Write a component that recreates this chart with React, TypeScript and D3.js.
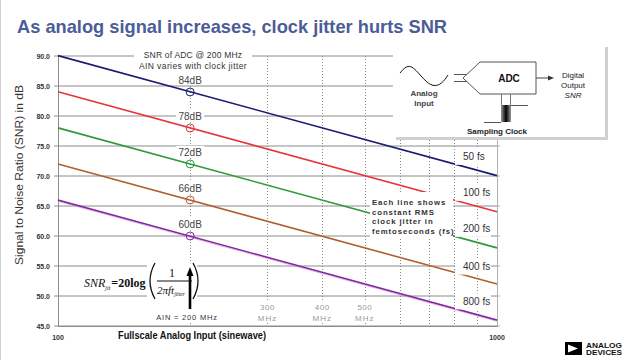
import React from "react";
import * as d3 from "d3";

// ---- data ----
const jitterLabels = ["50 fs", "100 fs", "200 fs", "400 fs", "800 fs"];
const jitterLabelSnr = [73.2, 67.2, 61.2, 54.9, 49.1];
const freqDomain = [100, 1000]; // MHz
const snrAt100 = [90.06, 84.04, 78.02, 72.0, 65.98];
const snrAt1000 = [70.06, 64.04, 58.02, 52.0, 45.98];
const markerFreq = 200;
const markerValues = [84, 78, 72, 66, 60];
const markerLabels = ["84dB", "78dB", "72dB", "66dB", "60dB"];
const lineColors = ["#1b1b72", "#e8343c", "#2e9a3a", "#b0602e", "#7c2c9c"];
const yTicks = [45, 50, 55, 60, 65, 70, 75, 80, 85, 90];
const dottedFreqs = [200, 300, 400, 500, 600, 700, 800, 900];
const mhzLabelFreqs = [300, 400, 500];
const xTickLabels = [100, 1000];

const W = 640;
const H = 360;

export default function App() {
  const x = d3.scaleLog().domain(freqDomain).range([58, 497]);
  const y = d3.scaleLinear().domain([45, 90]).range([326, 56]);
  const lineGen = d3
    .line<[number, number]>()
    .x((d) => x(d[0]))
    .y((d) => y(d[1]));

  const sans = "'Liberation Sans', Arial, sans-serif";
  const serif = "'Liberation Serif', 'Times New Roman', serif";
  const grey = "#8c8c8c";

  return (
    <svg
      width={W}
      height={H}
      viewBox={`0 0 ${W} ${H}`}
      style={{ position: "absolute", left: 0, top: 0, background: "#fff" }}
      fontFamily={sans}
    >
      <rect x={0} y={0} width={W} height={H} fill="#fff" />
      <line x1={0.5} y1={0} x2={0.5} y2={H} stroke="#d0d0d0" />

      {/* Title */}
      <text x={17} y={33} fontSize={19} fontWeight="bold" fill="#4b5d96" textLength={430} lengthAdjust="spacingAndGlyphs">
        As analog signal increases, clock jitter hurts SNR
      </text>

      {/* horizontal grid */}
      {yTicks.map((t) => (
        <line key={"g" + t} x1={58} x2={497} y1={y(t)} y2={y(t)} stroke={grey} strokeWidth={1} />
      ))}
      {/* dotted verticals */}
      {dottedFreqs.map((f) => (
        <line
          key={"d" + f}
          x1={Math.round(x(f)) + 0.5}
          x2={Math.round(x(f)) + 0.5}
          y1={56}
          y2={326}
          stroke="#8a8a8a"
          strokeWidth={1}
          strokeDasharray="1,2"
        />
      ))}
      {/* axes */}
      <line x1={58.5} x2={58.5} y1={56} y2={327} stroke={grey} />
      <line x1={497.5} x2={497.5} y1={56} y2={327} stroke="#b0b0b0" />
      <line x1={58} x2={498} y1={326.5} y2={326.5} stroke={grey} />
      {yTicks.map((t) => (
        <g key={"yt" + t}>
          <line x1={54} x2={58} y1={y(t)} y2={y(t)} stroke={grey} />
          <line x1={497} x2={500} y1={y(t)} y2={y(t)} stroke="#b0b0b0" />
          <text x={50} y={y(t) + 2.5} fontSize={7} fontWeight="bold" textAnchor="end" fill="#333">
            {t.toFixed(1)}
          </text>
        </g>
      ))}
      {xTickLabels.map((f) => (
        <text key={"xt" + f} x={x(f)} y={340} fontSize={7} fontWeight="bold" textAnchor="middle" fill="#333">
          {f}
        </text>
      ))}

      {/* MHz labels */}
      {mhzLabelFreqs.map((f) => (
        <g key={"m" + f}>
          <rect x={x(f) - 9} y={302} width={18} height={21} fill="#fff" />
          <text x={x(f)} y={310} fontSize={8} fill="#9a9a9a" textAnchor="middle" letterSpacing={0.5}>
            {f}
          </text>
          <text x={x(f)} y={321} fontSize={8} fill="#9a9a9a" textAnchor="middle" letterSpacing={1}>
            MHz
          </text>
        </g>
      ))}

      {/* data lines */}
      {snrAt100.map((v, i) => (
        <path
          key={"l" + i}
          d={lineGen([
            [freqDomain[0], v],
            [freqDomain[1], snrAt1000[i]],
          ])!}
          stroke={lineColors[i]}
          strokeWidth={1.6}
          fill="none"
        />
      ))}
      <path
        d={lineGen([
          [freqDomain[0], snrAt100[4]],
          [freqDomain[1], snrAt1000[4]],
        ])!}
        transform="translate(0,1.2)"
        stroke="#e070e0"
        strokeWidth={0.8}
        fill="none"
        opacity={0.7}
      />

      {/* Top annotation */}
      <rect x={134} y={48} width={118} height={24} fill="#fff" />
      <text x={193} y={58} fontSize={8.5} textAnchor="middle" fill="#333" letterSpacing={0.2}>
        SNR of ADC @ 200 MHz
      </text>
      <text x={193} y={69} fontSize={8.5} textAnchor="middle" fill="#333" letterSpacing={0.4}>
        AIN varies with clock jitter
      </text>

      {/* Each line shows */}
      <rect x={370} y={192} width={83} height={47} fill="#fff" />
      {["Each line shows", "constant RMS", "clock jitter in", "femtoseconds (fs)"].map((s, i) => (
        <text key={"e" + i} x={372} y={205 + i * 9.7} fontSize={7.8} fontWeight="bold" fill="#333" letterSpacing={0.9}>
          {s}
        </text>
      ))}

      {/* fs labels */}
      {jitterLabels.map((s, i) => (
        <g key={"fs" + i}>
          <rect x={455} y={y(jitterLabelSnr[i]) - 8} width={36} height={16} fill="#fff" />
          <text x={463} y={y(jitterLabelSnr[i]) + 3.5} fontSize={10} fill="#333">
            {s}
          </text>
        </g>
      ))}

      {/* dB labels + markers */}
      {markerValues.map((v, i) => (
        <g key={"mk" + i}>
          <rect x={x(markerFreq) - 14} y={y(v) - 18} width={28} height={11} fill="#fff" />
          <text x={x(markerFreq)} y={y(v) - 8} fontSize={10} textAnchor="middle" fill="#444">
            {markerLabels[i]}
          </text>
          <circle cx={x(markerFreq)} cy={y(v)} r={4} fill="none" stroke={lineColors[i]} strokeWidth={1} />
        </g>
      ))}

      {/* Formula */}
      <rect x={147} y={261} width={50} height={40} fill="#fff" />
      <text x={84} y={287} fontSize={12} fontStyle="italic" fontFamily={serif} fill="#111">
        SNR
        <tspan fontSize={6} dy={3}>
          jit
        </tspan>
        <tspan dy={-3} dx={1} fontStyle="normal" fontWeight="bold" fontSize={12}>
          =20log
        </tspan>
      </text>
      <path d="M155,263 Q145,281 155,299" stroke="#111" strokeWidth={1.3} fill="none" />
      <path d="M193,263 Q203,281 193,299" stroke="#111" strokeWidth={1.3} fill="none" />
      <text x={172} y={277} fontSize={12} fontFamily={serif} fill="#111" textAnchor="middle">
        1
      </text>
      <line x1={157} x2={192} y1={281} y2={281} stroke="#111" strokeWidth={1} />
      <text x={157} y={294} fontSize={11} fontStyle="italic" fontFamily={serif} fill="#111">
        2πft
        <tspan fontSize={5.5} dy={2}>
          jitter
        </tspan>
      </text>
      <line x1={190} x2={190} y1={309} y2={274} stroke="#000" strokeWidth={2.6} />
      <polygon points="190,267 186.5,276 193.5,276" fill="#000" />
      <rect x={160} y={311} width={54} height={11} fill="#fff" />
      <text x={187} y={320} fontSize={7.5} textAnchor="middle" fill="#333" letterSpacing={0.8}>
        AIN = 200 MHz
      </text>

      {/* Axis titles */}
      <text
        transform="translate(23,175) rotate(-90)"
        fontSize={11.5}
        textAnchor="middle"
        fill="#333"
        textLength={180}
        lengthAdjust="spacingAndGlyphs"
      >
        Signal to Noise Ratio (SNR) in dB
      </text>
      <text x={118} y={339} fontSize={11} fontWeight="bold" fill="#111" textLength={148} lengthAdjust="spacingAndGlyphs">
        Fullscale Analog Input (sinewave)
      </text>

      {/* Diagram box */}
      <rect x={605} y={47} width={3} height={93} fill="#d0d0d0" />
      <rect x={396} y={137} width={212} height={3} fill="#d0d0d0" />
      <rect x={393} y={44} width={212} height={93} fill="#fff" />
      <path
        d={d3
          .line<[number, number]>()
          .curve(d3.curveBasis)(
            [
              [400, 73],
              [406, 66],
              [413, 66],
              [424, 80],
              [433, 87],
              [442, 84],
              [448, 75],
            ]
          )!}
        stroke="#111"
        strokeWidth={1}
        fill="none"
      />
      <text x={424} y={96} fontSize={8} fontWeight="bold" textAnchor="middle" fill="#444">
        Analog
      </text>
      <text x={424} y={106} fontSize={8} fontWeight="bold" textAnchor="middle" fill="#444">
        Input
      </text>
      <line x1={454} x2={467} y1={74.5} y2={74.5} stroke="#555" />
      <line x1={454} x2={467} y1={81.5} y2={81.5} stroke="#555" />
      <path d="M480,62 L536,62 L536,94 L480,94 L463,78 Z" fill="#fff" stroke="#555" strokeWidth={1} />
      <text x={509} y={82} fontSize={10} fontWeight="bold" textAnchor="middle" fill="#111">
        ADC
      </text>
      <line x1={536} x2={550} y1={78} y2={78} stroke="#444" />
      <polygon points="554,78 548,75.5 548,80.5" fill="#333" />
      <text x={573} y={78} fontSize={8} textAnchor="middle" fill="#222">
        Digital
      </text>
      <text x={573} y={88} fontSize={8} textAnchor="middle" fill="#222">
        Output
      </text>
      <text x={573} y={98} fontSize={8} fontStyle="italic" textAnchor="middle" fill="#222">
        SNR
      </text>
      <line x1={501.5} x2={501.5} y1={94} y2={105} stroke="#777" />
      <line x1={510.5} x2={510.5} y1={94} y2={105} stroke="#777" />
      <defs>
        <linearGradient id="clk" x1="0" x2="1" y1="0" y2="0">
          <stop offset="0" stopColor="#999" />
          <stop offset="0.5" stopColor="#000" />
          <stop offset="1" stopColor="#999" />
        </linearGradient>
      </defs>
      <rect x={501} y={105} width={10} height={17} fill="url(#clk)" />
      <line x1={511} x2={528} y1={105.5} y2={105.5} stroke="#555" />
      <line x1={484} x2={501} y1={122.5} y2={122.5} stroke="#555" />
      <text x={497} y={134} fontSize={8} textAnchor="middle" fill="#222" fontWeight="bold">
        Sampling Clock
      </text>

      {/* Logo */}
      <rect x={565} y={342} width={17} height={13} fill="#000" />
      <polygon points="568,344.5 568,352.5 578,348.5" fill="#fff" />
      <text x={586} y={347.8} fontSize={6.3} fontWeight="bold" fill="#111" textLength={36} lengthAdjust="spacingAndGlyphs">
        ANALOG
      </text>
      <text x={586} y={355} fontSize={6.3} fontWeight="bold" fill="#111" textLength={36} lengthAdjust="spacingAndGlyphs">
        DEVICES
      </text>
    </svg>
  );
}
